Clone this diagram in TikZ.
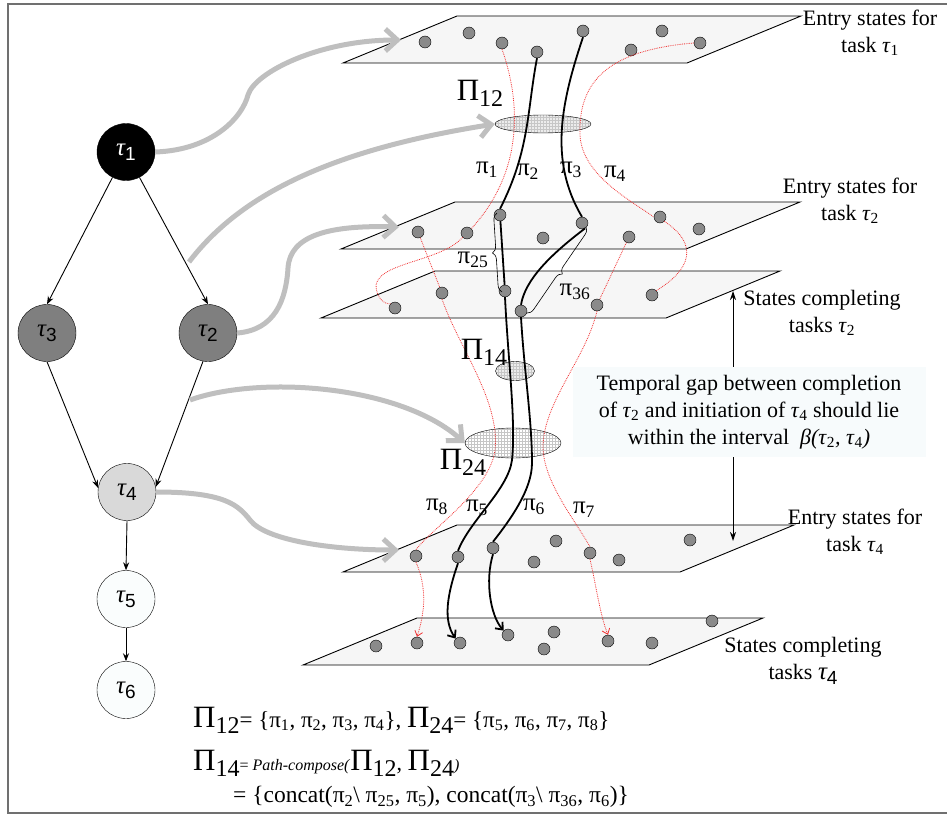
\documentclass[tikz,border=0pt]{standalone}
\usepackage{fontspec}
\setmainfont{Liberation Serif}
\newfontfamily\sansf{Liberation Sans}
\usetikzlibrary{arrows.meta,positioning,calc,shapes.geometric,patterns,decorations.pathreplacing}
\definecolor{PlaneFill}{HTML}{F6F6F6}
\definecolor{DotGrey}{HTML}{8A8A8A}
\definecolor{ArrowGrey}{HTML}{BFBFBF}
\definecolor{NoteFill}{HTML}{F7FBFC}
\definecolor{FrameGrey}{HTML}{707070}
\definecolor{PathRed}{HTML}{F03030}
\definecolor{TaskDark}{HTML}{7F7F7F}
\definecolor{TaskLight}{HTML}{D9D9D9}
\definecolor{TaskWhite}{HTML}{FAFDFD}
\newcommand{\tk}[1]{\textit{τ}\textsubscript{#1}}
\newcommand{\tn}[1]{{\fontsize{25}{25}\selectfont\itshape τ}\raisebox{-5pt}{\sansf\fontsize{19}{19}\selectfont #1}}
\newcommand{\pth}[1]{π\textsubscript{#1}}
\newcommand{\bPi}[1]{{\fontsize{31}{31}\selectfont Π}\raisebox{-6pt}{\fontsize{24}{24}\selectfont #1}}
\newcommand{\lblfont}{\fontsize{22}{27}\selectfont}

\begin{document}
\begin{tikzpicture}[x=1pt,y=-1pt,
  every node/.style={font=\lblfont},
  task/.style={ellipse, draw, minimum width=58, minimum height=57, inner sep=0pt},
  tedge/.style={line width=0.9pt, -{Stealth[length=8pt,width=6pt]}},
  plane/.style={draw, fill=PlaneFill, line width=0.9pt},
  dot/.style={circle, draw, fill=DotGrey, inner sep=0pt, minimum size=12},
  hatch/.style={ellipse, draw, inner sep=0pt, pattern=grid, pattern color=gray!45},
  garrow/.style={ArrowGrey, line width=5pt, -{Straight Barb[length=12pt,width=22pt]}},
  bpath/.style={line width=1.8pt},
  rpath/.style={PathRed, densely dotted, line width=0.8pt},
  brc/.style={decorate, decoration={brace, amplitude=7pt}, semithick},
  plbl/.style={font=\fontsize{25}{25}\selectfont},
  gaptip/.style={line width=1pt, -{Stealth[length=9pt,width=6pt]}}]
  \useasboundingbox (0,0) rectangle (947,816);
  \draw[FrameGrey, line width=1.2pt] (947,4) -- (8,4) -- (8,813) -- (947,813);

  \foreach \x/\y/\w in {343/63/344, 341/249/345, 321/318/345, 343/572/337, 303/665/346}
    \draw[plane] (\x,\y) -- ++(\w,0) -- ++(114,-47) -- ++(-\w,0) -- cycle;

  \node[hatch, preaction={fill=gray!15}, minimum width=96, minimum height=18] (p12) at (543,124) {};
  \node[hatch, preaction={fill=gray!15}, minimum width=39, minimum height=19] (p14) at (515,371) {};
  \node[hatch, minimum width=96, minimum height=30] (p24) at (513,443) {};

  \node[task, fill=black, text=white] (t1) at (126,152) {\tn{1}};
  \node[task, fill=TaskDark] (t3) at (47,333) {\tn{3}};
  \node[task, fill=TaskDark] (t2) at (208,333) {\tn{2}};
  \node[task, fill=TaskLight] (t4) at (127,492) {\tn{4}};
  \node[task, fill=TaskWhite] (t5) at (126,599) {\tn{5}};
  \node[task, fill=TaskWhite] (t6) at (126,690) {\tn{6}};
  \draw[tedge] (t1.-118) -- (t3.north);
  \draw[tedge] (t1.-62) -- (t2.north);
  \draw[tedge] (t3.south) -- (t4.172);
  \draw[tedge] (t2.-100) -- (t4.10);
  \draw[tedge] (t4.south) -- (t5.north);
  \draw[tedge] (t5.south) -- (t6.north);

  \coordinate (gA) at (401,40);
  \coordinate (gB) at (399,227);
  \coordinate (gD) at (399,550);
  \coordinate (g2) at (189,262);
  \coordinate (g4) at (190,400);
  \draw[garrow] (t1.east) .. controls (212,150) and (242,118) .. (248,95) .. controls (255,72) and (320,40) .. (gA);
  \draw[garrow] (g2) .. controls (240,195) and (330,150) .. (p12.west);
  \draw[garrow] (t2.east) .. controls (275,330) and (286,300) .. (288,268) .. controls (290,235) and (330,225) .. (gB);
  \draw[garrow] (g4) .. controls (260,375) and (400,385) .. (p24.west);
  \draw[garrow] (t4.east) .. controls (225,492) and (238,505) .. (250,520) .. controls (265,540) and (330,550) .. (gD);

  \foreach \n/\p in {a1/{(425,42)}, a2/{(469,33)}, a3/{(502,43)}, a4/{(537,52)}, a5/{(583,31)}, a6/{(662,31)}, a7/{(631,50)}, a8/{(700,43)},
    b1/{(500,215)}, b2/{(582,223)}, b3/{(418,232)}, b4/{(467,233)}, b5/{(543,238)}, b6/{(629,237)}, b7/{(660,217)}, b8/{(699,229)},
    c1/{(395,308)}, c2/{(442,293)}, c3/{(505,291)}, c4/{(521,311)}, c5/{(597,305)}, c6/{(652,295)},
    d1/{(416,556)}, d2/{(458,557)}, d3/{(493,548)}, d4/{(556,541)}, d5/{(534,562)}, d6/{(590,553)}, d7/{(619,560)}, d8/{(690,540)},
    e1/{(376,646)}, e2/{(417,643)}, e3/{(460,643)}, e4/{(508,635)}, e5/{(554,632)}, e6/{(544,649)}, e7/{(608,641)}, e8/{(652,643)}, e9/{(712,621)}}
    \node[dot] (\n) at \p {};

  \draw[bpath] (a4.south) .. controls (527,110) and (530,150) .. (b1.north);
  \draw[bpath] (a5.south) .. controls (562,100) and (548,160) .. (b2.north);
  \draw[bpath] (b1) -- (c3);
  \draw[bpath] (b2.-60) .. controls (550,255) and (525,280) .. (c4.north);
  \draw[bpath] (c3.south) .. controls (508,360) and (516,420) .. (512,460) .. controls (508,490) and (470,520) .. (d2.north);
  \draw[bpath] (c4.south) .. controls (524,370) and (532,420) .. (532,463) .. controls (532,490) and (510,520) .. (d3.north);
  \draw[bpath, -{Straight Barb[length=6pt,width=10pt]}] (d2.south) .. controls (447,595) and (443,620) .. (e3.north west);
  \draw[bpath, -{Straight Barb[length=6pt,width=10pt]}] (d3.south) .. controls (485,580) and (490,615) .. (e4.north west);

  \draw[rpath] (a3.south) .. controls (520,100) and (525,170) .. (b4.north east);
  \draw[rpath] (b4.south west) .. controls (440,262) and (380,262) .. (376,285) .. controls (376,298) and (385,305) .. (c1.north west);
  \draw[rpath] (a8.west) .. controls (610,50) and (578,80) .. (580,135) .. controls (582,175) and (630,200) .. (b7.west);
  \draw[rpath] (b7.south east) .. controls (700,245) and (690,270) .. (c6.north east);
  \draw[rpath] (b3) -- (c2);
  \draw[rpath] (c2.south) .. controls (460,350) and (500,400) .. (495,450) .. controls (490,490) and (430,530) .. (d1.north);
  \draw[rpath] (b6) -- (c5);
  \draw[rpath] (c5.south) .. controls (585,360) and (545,400) .. (543,445) .. controls (542,480) and (575,520) .. (d6.north);
  \draw[rpath, -{Straight Barb[length=5pt,width=8pt]}] (d1.south) .. controls (428,590) and (424,615) .. (e2.north);
  \draw[rpath, -{Straight Barb[length=5pt,width=8pt]}] (d6.south) .. controls (597,590) and (600,615) .. (e7.north);

  \draw[brc] (502,292) -- (497,213);
  \draw[brc] (586,227) -- (527,313);

  \node (l12) at (480,93) {\bPi{12}};
  \node (l14) at (484,352) {\bPi{14}};
  \node (l24) at (463,462) {\bPi{24}};
  \node[plbl] (q1) at (487,170) {\pth{1}};
  \node[plbl] (q2) at (528,172) {\pth{2}};
  \node[plbl] (q3) at (571,170) {\pth{3}};
  \node[plbl] (q4) at (615,174) {\pth{4}};
  \node[plbl] (q25) at (473,260) {\pth{25}};
  \node[plbl] (q36) at (575,292) {\pth{36}};
  \node[plbl] (q8) at (437,507) {\pth{8}};
  \node[plbl] (q5) at (477,508) {\pth{5}};
  \node[plbl] (q6) at (534,507) {\pth{6}};
  \node[plbl] (q7) at (584,510) {\pth{7}};

  \node[align=center] (lA) at (870,33) {Entry states for\\task \tk{1}};
  \node[align=center] (lB) at (850,201) {Entry states for\\task \tk{2}};
  \node[align=center] (lC) at (822,313) {States completing\\tasks \tk{2}};
  \node[align=center] (lD) at (855,532) {Entry states for\\task \tk{4}};
  \node[align=center] (lE) at (803,661) {States completing\\tasks \tn{4}};

  \node[align=center, fill=NoteFill, minimum width=353, minimum height=90, inner sep=0pt] (note) at (749,412)
    {Temporal gap between completion\\of \tk{2} and initiation of \tk{4} should lie\\within the interval \ \textit{β(τ}\textsubscript{2}\textit{, τ}\textsubscript{4}\textit{)}};
  \coordinate (gtop) at (733,291);
  \coordinate (gbot) at (733,541);
  \draw[gaptip] (note.north -| gtop) -- (gtop);
  \draw[gaptip] (note.south -| gbot) -- (gbot);

  \node[anchor=west, inner sep=0pt] (f1) at (193,720)
    {\bPi{12}{\fontsize{23}{23}\selectfont= \{\pth{1}, \pth{2}, \pth{3}, \pth{4}\}, }\bPi{24}{\fontsize{23}{23}\selectfont= \{\pth{5}, \pth{6}, \pth{7}, \pth{8}\}}};
  \node[anchor=west, inner sep=0pt] (f2) at (193,763)
    {\bPi{14}{\fontsize{16}{16}\selectfont= \textit{Path-compose(}}\bPi{12}, \bPi{24}{\fontsize{16}{16}\selectfont\textit{)}}};
  \node[anchor=west, inner sep=0pt] (f3) at (233,797)
    {{\fontsize{23.5}{23.5}\selectfont = \{concat(\pth{2}\textbackslash\ \pth{25}, \pth{5}), concat(\pth{3}\textbackslash\ \pth{36}, \pth{6})\}}};
\end{tikzpicture}
\end{document}
